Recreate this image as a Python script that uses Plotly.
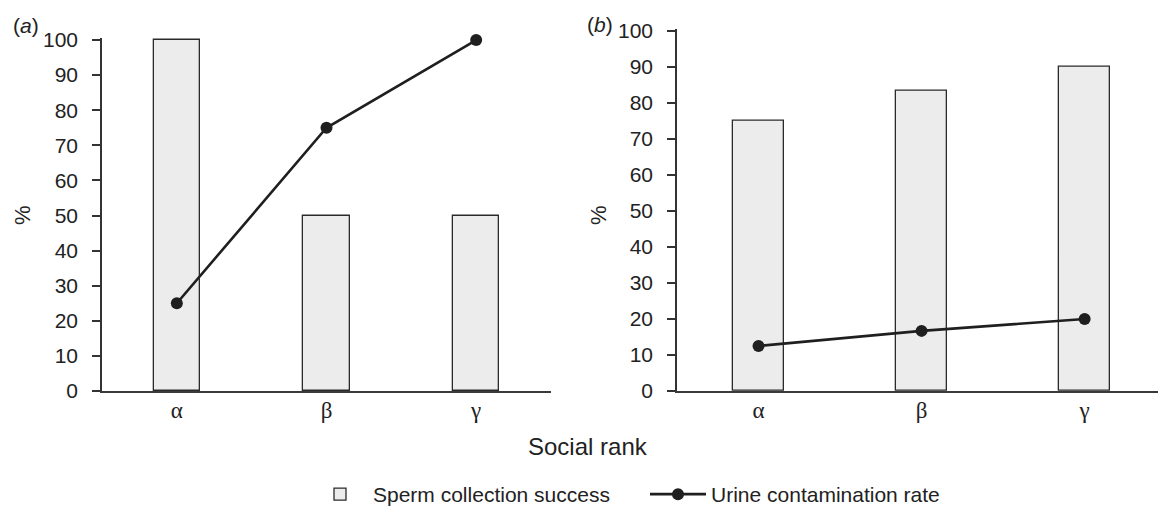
import plotly.graph_objects as go

categories = ["α", "β", "γ"]
sperm_a = [100, 50, 50]
urine_a = [25, 75, 100]
sperm_b = [75, 83.3, 90]
urine_b = [12.5, 16.7, 20]
y_ticks = list(range(0, 101, 10))

W, H = 1158, 508
BAR_FILL = "#ececec"
INK = "#1f1f1f"
SANS = "Liberation Sans, Arial, sans-serif"
SERIF = "Liberation Serif, Times New Roman, serif"
Y_TOP = 100.6  # tiny headroom so the top bar outline is not clipped

fig = go.Figure()

bar_style = dict(marker=dict(color=BAR_FILL, line=dict(color="#2a2a2a", width=1.3)), width=0.31,
                 cliponaxis=False)
line_style = dict(mode="lines+markers", line=dict(color=INK, width=2.6),
                  marker=dict(size=12, color=INK), cliponaxis=False)

fig.add_trace(go.Bar(x=categories, y=sperm_a, xaxis="x", yaxis="y",
                     name="Sperm collection success", legendgroup="s", **bar_style))
fig.add_trace(go.Scatter(x=categories, y=urine_a, xaxis="x", yaxis="y",
                         name="Urine contamination rate", legendgroup="u", **line_style))
fig.add_trace(go.Bar(x=categories, y=sperm_b, xaxis="x2", yaxis="y2",
                     name="Sperm collection success", legendgroup="s", showlegend=False, **bar_style))
fig.add_trace(go.Scatter(x=categories, y=urine_b, xaxis="x2", yaxis="y2",
                         name="Urine contamination rate", legendgroup="u", showlegend=False, **line_style))

xcommon = dict(showline=True, linecolor="#3a3a3a", linewidth=2, ticks="", showgrid=False,
               ticklabelstandoff=-3,
               zeroline=False, tickfont=dict(family=SERIF, size=23, color="#222"), fixedrange=True)
ycommon = dict(range=[0, Y_TOP], tickvals=y_ticks, showline=True, linecolor="#333", linewidth=1.6,
               ticks="outside", ticklen=8, tickwidth=1.6, tickcolor="#333", showgrid=False,
               ticklabelstandoff=10,
               zeroline=False, tickfont=dict(family=SANS, size=21, color="#222"), fixedrange=True)

# pixel positions of y=0 and y=100 in each panel
a_bot, a_top = 391, 40
b_bot, b_top = 391, 31
a_dom_top = a_bot - (a_bot - a_top) * Y_TOP / 100
b_dom_top = b_bot - (b_bot - b_top) * Y_TOP / 100

fig.update_layout(
    width=W, height=H,
    margin=dict(l=0, r=0, t=0, b=0, autoexpand=False),
    paper_bgcolor="white", plot_bgcolor="white",
    xaxis=dict(domain=[102 / W, 551 / W], range=[-0.5, 2.5], anchor="y", **xcommon),
    yaxis=dict(domain=[1 - a_bot / H, 1 - a_dom_top / H], anchor="x", **ycommon),
    xaxis2=dict(domain=[677 / W, 1.0], range=[-0.5, 2.45], anchor="y2", **xcommon),
    yaxis2=dict(domain=[1 - b_bot / H, 1 - b_dom_top / H], anchor="x2", **ycommon),
    showlegend=True,
    legend=dict(orientation="h", x=307 / W, xanchor="left", y=1 - 494.5 / H, yanchor="middle",
                itemwidth=56, entrywidth=267, entrywidthmode="pixels",
                font=dict(family=SANS, size=21, color="#222"), bgcolor="rgba(0,0,0,0)",
                itemclick=False, itemdoubleclick=False),
    bargap=0,
)

def label(text, x, y, size=21, angle=0):
    fig.add_annotation(text=text, x=x / W, y=1 - y / H, xref="paper", yref="paper",
                       xanchor="center", yanchor="middle", showarrow=False, textangle=angle,
                       font=dict(family=SANS, size=size, color="#222"))

label("(<i>a</i>)", 26, 25)
label("(<i>b</i>)", 600, 24)
label("%", 22, 215, size=22, angle=-90)
label("%", 598, 215, size=22, angle=-90)
label("Social rank", 588, 446, size=24)

fig.write_html("out.html", config={"displayModeBar": False},
               post_script="document.body.style.margin='0';")
